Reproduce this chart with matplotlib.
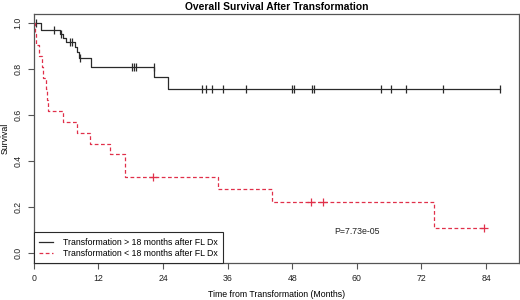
import matplotlib
matplotlib.use("Agg")
import matplotlib.pyplot as plt

plt.rcParams["font.family"] = ["Liberation Sans", "DejaVu Sans"]

# KM curve: step times (months) and survival after each step
late_times = [0, 1.3, 4.8, 5.4, 5.9, 7.6, 8.1, 8.4, 10.7, 22.3, 25.0, 86.6]
late_surv = [1.0, 0.971, 0.952, 0.936, 0.919, 0.897, 0.875, 0.849, 0.810, 0.764, 0.713, 0.713]
late_cens_t = [0.4, 3.7, 5.1, 6.8, 7.1, 8.6, 18.2, 18.6, 19.0, 22.3,
               31.3, 32.0, 33.1, 35.2, 39.5, 48.0, 48.3, 51.6, 52.0,
               64.5, 66.4, 69.1, 76.0, 86.6]
late_cens_s = [1.0, 0.971, 0.952, 0.919, 0.919, 0.849, 0.810, 0.810, 0.810, 0.810,
               0.713, 0.713, 0.713, 0.713, 0.713, 0.713, 0.713, 0.713, 0.713,
               0.713, 0.713, 0.713, 0.713, 0.713]

early_times = [0, 0.2, 0.4, 0.9, 1.6, 1.8, 2.2, 2.4, 2.6, 5.4, 8.1, 10.4, 14.1, 17.0,
               34.3, 44.3, 74.3, 83.6]
early_surv = [1.0, 0.952, 0.905, 0.857, 0.810, 0.762, 0.714, 0.667, 0.619, 0.571, 0.524,
              0.476, 0.429, 0.333, 0.278, 0.222, 0.111, 0.111]
early_cens_t = [22.2, 51.4, 53.8, 83.6]
early_cens_s = [0.333, 0.222, 0.222, 0.111]

labels = ["Transformation > 18 months after FL Dx", "Transformation < 18 months after FL Dx"]
xticks = [0, 12, 24, 36, 48, 60, 72, 84]
yticks = [0.0, 0.2, 0.4, 0.6, 0.8, 1.0]

black = "#2a2a2a"
red = "#e0304a"
fs = 6.3

fig = plt.figure(figsize=(5.2, 3.0), dpi=100)
ax = fig.add_axes([0.065, 0.123, 0.933, 0.830])

ax.step(late_times, late_surv, where="post", color=black, lw=0.9, label=labels[0])
ax.plot(late_cens_t, late_cens_s, ls="none", marker="|", ms=6, mew=0.9, color=black)

ax.step(early_times, early_surv, where="post", color=red, lw=0.9, ls=(0, (3, 2)), label=labels[1])
ax.plot(early_cens_t, early_cens_s, ls="none", marker="+", ms=6, mew=0.9, color=red)

ax.set_xlim(0, 90.1)
ax.set_ylim(-0.043, 1.039)
ax.set_xticks(xticks)
ax.set_yticks(yticks)
ax.set_xticklabels([str(t) for t in xticks])
ax.set_yticklabels(["%.1f" % t for t in yticks], rotation=90, va="center")
ax.tick_params(labelsize=fs, length=4, width=0.8, color="#555555", labelcolor="#222222", pad=4)
for s in ax.spines.values():
    s.set_color("#555555")
    s.set_linewidth(0.9)

ax.set_xlabel("Time from Transformation (Months)", fontsize=fs, labelpad=5)
ax.set_ylabel("Survival", fontsize=fs, labelpad=3)
ax.set_title("Overall Survival After Transformation", fontsize=7.4, fontweight="bold", pad=3)

ax.text(60, 0.096, "P=7.73e-05", fontsize=fs, ha="center", va="center", color="#222222")

leg = ax.legend(loc="lower left", bbox_to_anchor=(0, 0), borderaxespad=0, fontsize=fs,
                fancybox=False, framealpha=1, edgecolor=black, handlelength=1.6,
                borderpad=0.6, labelspacing=0.25, handletextpad=1.1)
leg.get_frame().set_linewidth(0.8)

fig.savefig("out.png", dpi=100)
